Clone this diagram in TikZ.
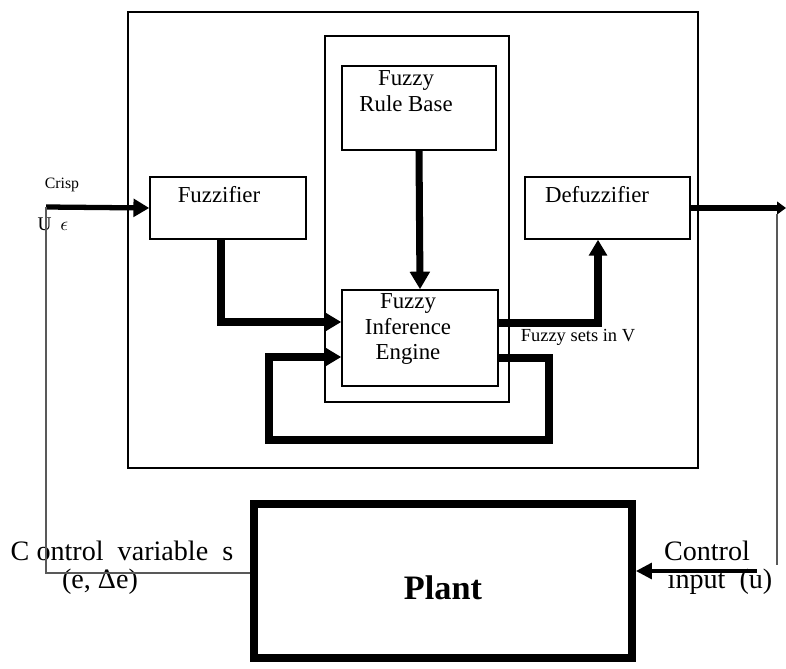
\documentclass[tikz,border=0pt]{standalone}
\usepackage{fontspec}
\setmainfont{Liberation Serif}
\usepackage{tikz}
\usetikzlibrary{arrows.meta}
\usetikzlibrary{fit}

\tikzset{
  blockbox/.style={draw, line width=0.85pt, inner sep=0pt},
  blocktext/.style={align=center, inner sep=0pt, font=\fontsize{13}{14.5}\selectfont},
  thickarrow/.style={line width=5pt, -{Triangle[length=9pt,width=10pt]}},
  thinline/.style={draw=black!65, line width=1.1pt}
}

\begin{document}
\begin{tikzpicture}[x=0.02cm, y=-0.02cm]
\useasboundingbox (0,0) rectangle (786,668);
% boxes
\node[blockbox, fit={(128,12) (698,468)}] (ctrl) {};
\node[blockbox, fit={(325,36) (509,402)}] (core) {};
\node[blockbox, fit={(342,66) (496,150)}] (rule) {};
\node[blockbox, fit={(342,290) (498,386)}] (eng) {};
\node[blockbox, fit={(150,177) (306,239)}] (fuzz) {};
\node[blockbox, fit={(525,177) (690,239)}] (defuzz) {};
\node[draw, line width=4.5pt, inner sep=0pt, fit={(254,504) (632,658)}] (plant) {};
% texts
\node[blocktext] (rulelbl) at (406,91) {Fuzzy\\Rule Base};
\node[blocktext] (englbl) at (408,329) {Fuzzy\\Inference\\Engine};
\node[blocktext] (fuzzlbl) at (219,195) {Fuzzifier};
\node[blocktext] (defuzzlbl) at (597,195) {Defuzzifier};
\node[font=\fontsize{19.5}{20}\selectfont\bfseries] (plantlbl) at (443,588) {Plant};
\node[font=\fontsize{9}{10}\selectfont] (crisplbl) at (62,185) {Crisp};
\node[font=\fontsize{11}{12}\selectfont] (ulbl) at (53,224) {U\hspace{5pt}$\epsilon$};
\node[font=\fontsize{10.5}{12}\selectfont] (setslbl) at (578,337) {Fuzzy sets in V};
\node[font=\fontsize{16}{17}\selectfont] (varlbl) at (122,551) {C ontrol\ \ variable\ \ s};
\node[font=\fontsize{16}{17}\selectfont] (elbl) at (100,582) {(e,\ Δe)};
\node[font=\fontsize{16}{17}\selectfont] (inlbl) at (707,551) {Control};
\node[font=\fontsize{16}{17}\selectfont] (ulbl2) at (720,582) {input\ \ (u)};
% connectors
\coordinate (crispin) at (46,207);
\coordinate (fbleft) at (46,573);
\coordinate (outtop) at (777,214);
\coordinate (outbot) at (777,565);
\coordinate (inright) at (757,571);
\draw[thickarrow, line width=3pt] (crispin) -- (fuzz.west);
\draw[thickarrow] (fuzz.south -| 221,0) |- (eng.west |- 0,322);
\draw[line width=4pt, -{Triangle[length=10pt,width=11pt]}] (rule.south) -- (eng.north);
\draw[thickarrow, line width=4.5pt] (eng.east |- 0,323) -| (defuzz.south -| 598,0);
\draw[line width=5pt, -{Triangle[length=9pt,width=10pt]}]
  (eng.east |- 0,358) -- (549,358) -- (549,440) -- (269,440) -- (269,357) -- (eng.west |- 0,357);
\draw[line width=3.8pt, -{Triangle[length=5pt,width=7pt]}] (defuzz.east) -- (786,208);
\draw[thinline] (outtop) -- (outbot);
\draw[thinline] (plant.west |- fbleft) -- (fbleft) -- (crispin);
\draw[line width=1.8pt, -{Triangle[length=9pt,width=9pt]}] (inright) -- (plant.east |- inright);
\end{tikzpicture}
\end{document}
